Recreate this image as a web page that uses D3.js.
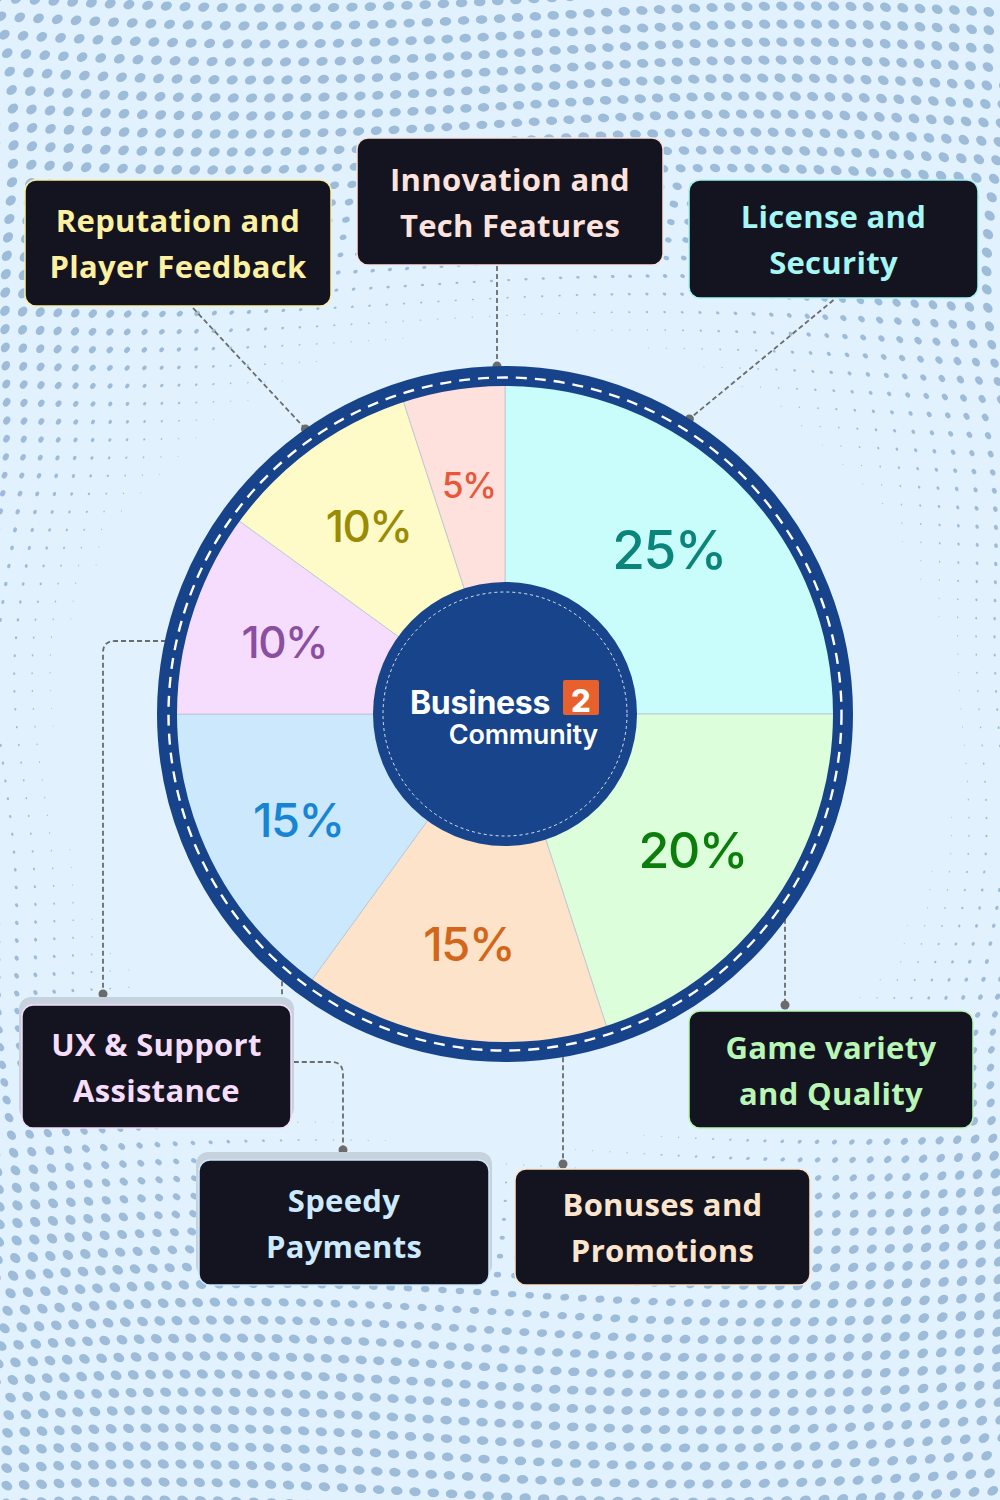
<!DOCTYPE html>
<html><head><meta charset="utf-8">
<script src="https://cdn.jsdelivr.net/npm/d3@7"></script>
<style>html,body{margin:0;padding:0;background:#e1f1fd;} svg{display:block}</style>
</head><body>
<svg id="chart" width="1000" height="1500"></svg>
<script>
// ---------- DATA ----------
const categories = ["License and Security","Game variety and Quality","Bonuses and Promotions","Speedy Payments","UX & Support Assistance","Reputation and Player Feedback","Innovation and Tech Features"];
const values = [25, 20, 15, 15, 10, 10, 5];
const labelLines = [["License and","Security"],["Game variety","and Quality"],["Bonuses and","Promotions"],["Speedy","Payments"],["UX & Support","Assistance"],["Reputation and","Player Feedback"],["Innovation and","Tech Features"]];
const centerTitle = ["Business", "2", "Community"];

// ---------- STYLES ----------
const sliceFills = ["#c9fdfb","#ddfedb","#fde3c9","#cbe8fd","#f6ddfd","#fefbc8","#fee0dc"];
const pctColors  = ["#0b857a","#0b7d0b","#d2661a","#1686d4","#8b4f9f","#9a8b05","#e8573a"];
const boxTextColors = ["#a6f6f3","#b9f6b6","#fde5cd","#cde9fd","#f6ddfb","#fdf0a0","#fde2dd"];

// ---------- LAYOUT ----------
const W = 1000, H = 1500, cx = 505, cy = 714;
const rPie = 331, rRing = 338, ringW = 20, rOuter = 348, rCenter = 132;
const boxLayout = [
  {x:689, y:180, w:289, h:118},
  {x:689, y:1011, w:284, h:117},
  {x:515, y:1169, w:295, h:116},
  {x:199, y:1160, w:290, h:125, shadow:true},
  {x:22,  y:1005, w:269, h:123, shadow:true},
  {x:25,  y:180, w:306, h:126},
  {x:357, y:138, w:306, h:127}
];

const svg = d3.select("#chart");

// ---------- BACKGROUND PATTERN ----------
svg.append("rect").attr("width", W).attr("height", H).attr("fill", "#e1f1fd");
const dots = [];
const step = 18;
function smooth(a, b, t){ t = Math.max(0, Math.min(1, (t - a) / (b - a))); return t*t*(3-2*t); }
for (let gy = -20; gy < H + 20; gy += step) {
  for (let gx = -20; gx < W + 20; gx += step) {
    const px = gx + 14*Math.sin(gy/150 + gx/320) + 6*Math.sin(gy/60);
    const py = gy + 10*Math.sin(gx/170 + gy/400);
    const e = Math.sqrt(Math.pow((px-cx)/700, 2) + Math.pow((py-740)/640, 2));
    const r = 4.6 * smooth(0.56, 1.02, e);
    if (r > 0.4) dots.push({x:px, y:py, r:r, a: Math.atan2(py-cy, px-cx)*180/Math.PI + 90});
  }
}
svg.append("g").selectAll("ellipse").data(dots).join("ellipse")
  .attr("cx", d=>d.x).attr("cy", d=>d.y)
  .attr("rx", d=>d.r*1.25).attr("ry", d=>d.r*0.95)
  .attr("transform", d=>`rotate(${d.a} ${d.x} ${d.y})`)
  .attr("fill", "#9dbcd9");

// ---------- CONNECTORS ----------
const pie = d3.pie().sort(null).value(d=>d)(values);
const ringPt = a => [cx + rOuter*Math.sin(a), cy - rOuter*Math.cos(a)];
const deg = d => d*Math.PI/180;
const conn = svg.append("g").attr("fill","none").attr("stroke","#6b6b6b").attr("stroke-width",1.8).attr("stroke-dasharray","5 3");
const dotsG = svg.append("g");
function addDot(p){ dotsG.append("circle").attr("cx",p[0]).attr("cy",p[1]).attr("r",4.5).attr("fill","#6b6b6b"); }

{ const b = boxLayout[0]; const s=[b.x+b.w/2, b.y+b.h+2]; const e=ringPt(deg(32));
  conn.append("path").attr("d", d3.line()([s,e])); addDot(e); }
{ const b = boxLayout[5]; const s=[193, b.y+b.h+2]; const e=ringPt(deg(325));
  conn.append("path").attr("d", d3.line()([s,e])); addDot(e); }
{ const b = boxLayout[6]; const x=497; const e=[x, cy - Math.sqrt(rOuter*rOuter-(x-cx)*(x-cx))];
  conn.append("path").attr("d", d3.line()([[x,b.y+b.h+1],e])); addDot(e); }
{ const b = boxLayout[1]; const x=785; const s=[x, cy + Math.sqrt(rOuter*rOuter-(x-cx)*(x-cx))-2];
  const e=[x, b.y-6]; conn.append("path").attr("d", d3.line()([s,e])); addDot(e); }
{ const b = boxLayout[2]; const x=563; const s=[x, cy + Math.sqrt(rOuter*rOuter-(x-cx)*(x-cx))-8];
  const e=[x, b.y-5]; conn.append("path").attr("d", d3.line()([s,e])); addDot(e); }
{ const b = boxLayout[3]; const x=282; const s=[x, cy + Math.sqrt(rOuter*rOuter-(x-cx)*(x-cx))-8];
  const e=[343, b.y-10];
  const p = d3.path(); p.moveTo(s[0],s[1]); p.lineTo(x,1050); p.quadraticCurveTo(x,1062,294,1062);
  p.lineTo(331,1062); p.quadraticCurveTo(343,1062,343,1074); p.lineTo(e[0],e[1]);
  conn.append("path").attr("d", p.toString()); addDot(e); }
{ const b = boxLayout[4]; const e=[103, b.y-11];
  const p = d3.path(); p.moveTo(198,641); p.lineTo(115,641); p.quadraticCurveTo(103,641,103,653); p.lineTo(e[0],e[1]);
  conn.append("path").attr("d", p.toString()); addDot(e); }

// ---------- PIE ----------
const g = svg.append("g").attr("transform", `translate(${cx},${cy})`);
const arc = d3.arc().innerRadius(0).outerRadius(rPie);
g.selectAll("path.slice").data(pie).join("path").attr("class","slice")
  .attr("d", arc).attr("fill", (d,i)=>sliceFills[i]).attr("stroke","#b9c3d6").attr("stroke-width",0.8);
g.append("circle").attr("r", rRing).attr("fill","none").attr("stroke","#17438a").attr("stroke-width", ringW);
g.append("circle").attr("r", rRing-1.5).attr("fill","none").attr("stroke","#ffffff").attr("stroke-width", 2.4).attr("stroke-dasharray","11 8");

const labelArc = d3.arc().innerRadius(232).outerRadius(232);
const fontScale = d3.scaleLinear().domain([5,10,15,25]).range([35,44,47,53]);
g.selectAll("text.pct").data(pie).join("text").attr("class","pct")
  .attr("transform", d=>`translate(${labelArc.centroid(d)})`)
  .attr("text-anchor","middle").attr("dominant-baseline","central")
  .attr("font-family","Inter, 'Noto Sans', sans-serif").attr("font-weight",500)
  .attr("font-size", d=>fontScale(d.data)).attr("letter-spacing","-1.5")
  .attr("fill", (d,i)=>pctColors[i]).text(d=>d.data+"%");

// center
g.append("circle").attr("r", rCenter).attr("fill","#17448a");
g.append("circle").attr("r", rCenter-10).attr("fill","none").attr("stroke","#ffffff").attr("stroke-opacity",0.85).attr("stroke-width",1).attr("stroke-dasharray","3 3");
g.append("text").attr("x",-95).attr("y",0).attr("fill","#ffffff")
  .attr("font-family","Inter, sans-serif").attr("font-weight",700).attr("font-size",32).attr("letter-spacing","-0.3").text(centerTitle[0]);
g.append("rect").attr("x",58).attr("y",-34).attr("width",36).attr("height",35).attr("rx",2).attr("fill","#e8602c");
g.append("text").attr("x",76).attr("y",-2).attr("text-anchor","middle").attr("fill","#ffffff")
  .attr("font-family","Inter, sans-serif").attr("font-weight",800).attr("font-size",31).text(centerTitle[1]);
g.append("text").attr("x",93).attr("y",30).attr("text-anchor","end").attr("fill","#ffffff")
  .attr("font-family","Inter, sans-serif").attr("font-weight",600).attr("font-size",27).attr("letter-spacing","-0.2").text(centerTitle[2]);

// ---------- LABEL BOXES ----------
const boxes = svg.append("g").selectAll("g").data(categories).join("g");
boxes.each(function(c, i){
  const b = boxLayout[i]; const sel = d3.select(this);
  if (b.shadow) sel.append("rect").attr("x",b.x-3).attr("y",b.y-8).attr("width",b.w+6).attr("height",b.h).attr("rx",12).attr("fill","#c6d3de");
  sel.append("rect").attr("x",b.x).attr("y",b.y).attr("width",b.w).attr("height",b.h).attr("rx",11)
    .attr("fill","#13141f").attr("stroke", boxTextColors[i]).attr("stroke-width",1.5);
  const midY = b.y + b.h/2;
  sel.selectAll("text").data(labelLines[i]).join("text")
    .attr("x", b.x + b.w/2).attr("y", (d,k)=> midY + (k-0.5)*46)
    .attr("text-anchor","middle").attr("dominant-baseline","central")
    .attr("font-family","'Open Sans', 'Noto Sans', sans-serif").attr("font-weight",700).attr("font-size",31)
    .attr("letter-spacing","0.3")
    .attr("fill", boxTextColors[i]).text(d=>d);
});
</script>
</body></html>
